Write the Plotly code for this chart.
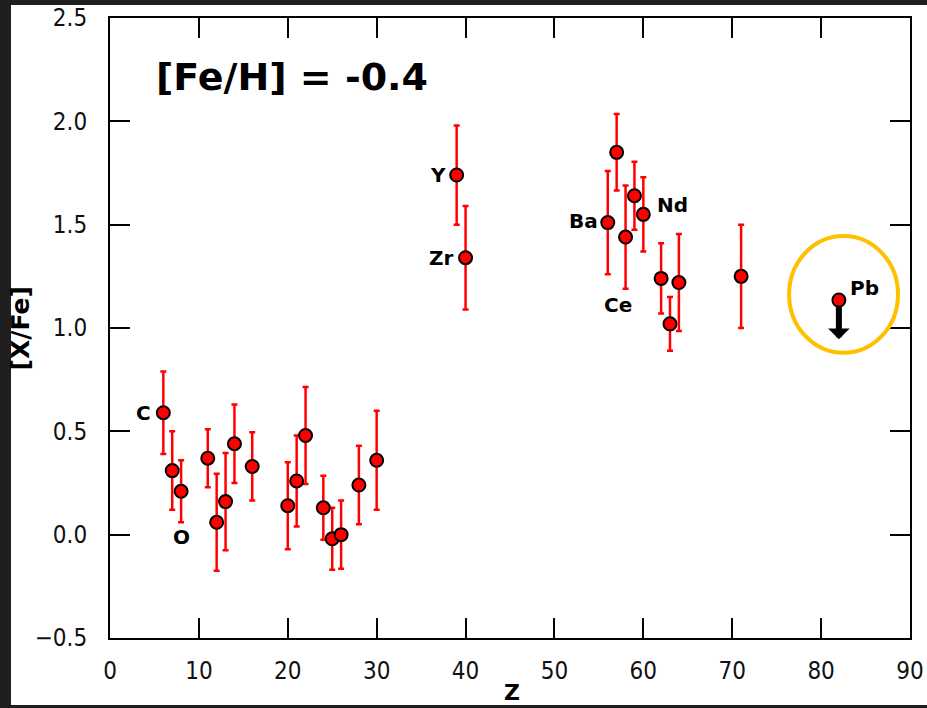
import plotly.graph_objects as go

# ---- data ----
z_vals = [6, 7, 8, 11, 12, 13, 14, 16, 20, 21, 22, 24, 25, 26, 28, 30,
          39, 40, 56, 57, 58, 59, 60, 62, 63, 64, 71]
xfe_vals = [0.59, 0.31, 0.21, 0.37, 0.06, 0.16, 0.44, 0.33, 0.14, 0.26, 0.48, 0.13, -0.02, 0.00, 0.24, 0.36,
            1.74, 1.34, 1.51, 1.85, 1.44, 1.64, 1.55, 1.24, 1.02, 1.22, 1.25]
err_vals = [0.20, 0.19, 0.15, 0.14, 0.235, 0.235, 0.19, 0.165, 0.21, 0.22, 0.235, 0.155, 0.15, 0.165, 0.19, 0.24,
            0.24, 0.25, 0.25, 0.185, 0.25, 0.165, 0.18, 0.17, 0.13, 0.235, 0.25]

# upper limit (Pb)
lim_z = [82]
lim_xfe = [1.135]
lim_arrow = [0.19]

# element labels
label_z = [6, 8, 39, 40, 56, 60, 58, 82]
label_text = ["C", "O", "Y", "Zr", "Ba", "Nd", "Ce", "Pb"]
label_dx = [-10, 0, -9, -10, -8, 12, -8, 9]
label_dy = [0, -46, 0, 0, 2, 9, -68, 12]
label_xanchor = ["right", "center", "right", "right", "right", "left", "center", "left"]

x_ticks = [0, 10, 20, 30, 40, 50, 60, 70, 80, 90]
y_ticks = [-0.5, 0.0, 0.5, 1.0, 1.5, 2.0, 2.5]

title_text = "[Fe/H] = -0.4"

fig = go.Figure()

fig.add_trace(go.Scatter(
    x=z_vals, y=xfe_vals, mode="markers",
    error_y=dict(type="data", array=err_vals, symmetric=True,
                 color="#ff0000", thickness=2.5, width=3),
    marker=dict(size=13, color="#ff0000", line=dict(color="black", width=2)),
    showlegend=False, hoverinfo="skip"))

# Pb upper-limit arrow
for zz, vv, ll in zip(lim_z, lim_xfe, lim_arrow):
    fig.add_annotation(x=zz, y=vv - ll, ax=zz, ay=vv, xref="x", yref="y",
                       axref="x", ayref="y", text="", showarrow=True,
                       arrowhead=1, arrowsize=0.6, arrowwidth=6,
                       arrowcolor="black", startstandoff=5)

fig.add_trace(go.Scatter(
    x=lim_z, y=lim_xfe, mode="markers",
    marker=dict(size=13, color="#ff0000", line=dict(color="black", width=2)),
    showlegend=False, hoverinfo="skip"))

val_of = {z: v for z, v in zip(z_vals + lim_z, xfe_vals + lim_xfe)}
for zz, tt, dx, dy, xa in zip(label_z, label_text, label_dx, label_dy, label_xanchor):
    fig.add_annotation(x=zz, y=val_of[zz], text=tt, showarrow=False,
                       xanchor=xa, yanchor="middle", xshift=dx, yshift=dy,
                       font=dict(family="DejaVu Sans", size=20, color="black", weight="bold"))

# highlight circle around Pb
fig.add_shape(type="circle", xref="x", yref="y",
              x0=lim_z[0] - 5.6, x1=lim_z[0] + 6.65,
              y0=lim_xfe[0] - 0.255, y1=lim_xfe[0] + 0.31,
              line=dict(color="#FFC000", width=4), layer="above")

# white slide area (dark frame around)
fig.add_shape(type="rect", xref="paper", yref="paper",
              x0=-0.12375, x1=1.03, y0=-0.108, y1=1.021,
              fillcolor="white", line=dict(width=0), layer="below")

# big title inside plot
fig.add_annotation(x=0.055, y=0.905, xref="paper", yref="paper", text=title_text,
                   showarrow=False, xanchor="left", yanchor="middle",
                   font=dict(family="DejaVu Sans", size=38, color="black", weight="bold"))

# axis titles
fig.add_annotation(x=-0.112, y=0.5, xref="paper", yref="paper", text="[X/Fe]",
                   textangle=-90, showarrow=False, xanchor="center", yanchor="middle",
                   font=dict(family="DejaVu Sans", size=25, color="black", weight="bold"))
fig.add_annotation(x=0.503, y=-0.064, xref="paper", yref="paper", text="Z",
                   showarrow=False, xanchor="center", yanchor="top",
                   font=dict(family="DejaVu Sans", size=22, color="black", weight="bold"))

tickfont = dict(family="DejaVu Sans Condensed, DejaVu Sans", size=24, color="#111111")
fig.update_xaxes(range=[0, 90], tickvals=x_ticks, ticktext=[str(t) for t in x_ticks],
                 ticks="inside", ticklen=20, tickwidth=1.5, tickcolor="black",
                 showline=True, linecolor="black", linewidth=2, mirror="ticks",
                 showgrid=False, zeroline=False, tickfont=tickfont,
                 ticklabelstandoff=10, automargin=False)
fig.update_yaxes(range=[-0.5, 2.5], tickvals=y_ticks,
                 ticktext=[f"{t:.1f}".replace("-", "\u2212") for t in y_ticks],
                 ticks="inside", ticklen=20, tickwidth=1.5, tickcolor="black",
                 showline=True, linecolor="black", linewidth=2, mirror="ticks",
                 showgrid=False, zeroline=False, tickfont=tickfont,
                 ticklabelstandoff=16, automargin=False)

fig.update_layout(width=927, height=708,
                  margin=dict(l=110, r=17, t=18, b=70, autoexpand=False),
                  paper_bgcolor="#1f1f1f", plot_bgcolor="white")

fig.write_html("out.html")
